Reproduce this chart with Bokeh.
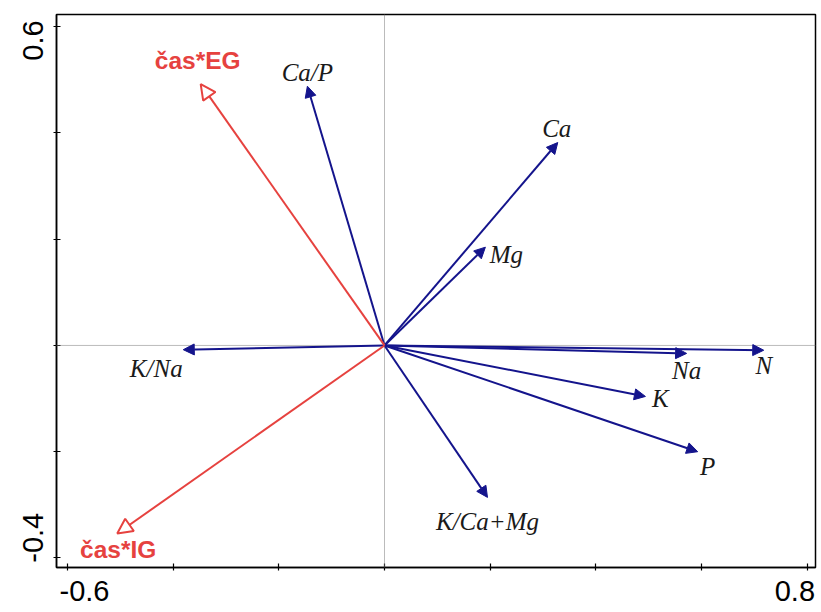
from bokeh.plotting import figure
from bokeh.models import Range1d, Arrow, NormalHead, ColumnDataSource, Span, FixedTicker, LinearAxis
from bokeh.core.properties import value
from bokeh.embed import file_html
from bokeh.resources import INLINE

# ---- data ----
env_names = ["čas*EG", "čas*IG"]
env_x = [-0.348, -0.506]
env_y = [0.492, -0.354]

var_names = ["Ca/P", "Ca", "Mg", "K/Na", "N", "Na", "K", "P", "K/Ca+Mg"]
var_x = [-0.146, 0.328, 0.191, -0.381, 0.718, 0.572, 0.494, 0.593, 0.195]
var_y = [0.488, 0.382, 0.185, -0.008, -0.009, -0.015, -0.096, -0.200, -0.286]

x_ticks = [-0.6, -0.4, -0.2, 0, 0.2, 0.4, 0.6, 0.8]
y_ticks = [-0.4, -0.2, 0, 0.2, 0.4, 0.6]
x_labelled = [-0.6, 0.8]
x_label_text = ["-0.6", "0.8"]
y_labelled = [-0.4, 0.6]
y_label_text = ["-0.4", "0.6"]

# ---- placement / style (labels kept inside the frame extent, as in the original) ----
x_label_shift = [0.032, -0.023]   # data units
y_label_shift = [0.038, -0.026]
env_dx = [-3, 1]
env_dy = [-24, 16]
var_dx = [0, -1, 21, -27, 0, 0, 15, 10, 0]
var_dy = [-14, -14, 7, 19, 15, 17, 2, 15, 24]

RED = "#E6423F"
BLUE = "#14148C"

p = figure(width=821, height=612, output_backend="svg", toolbar_location=None,
           x_range=Range1d(-0.621, 0.816), y_range=Range1d(-0.418, 0.623),
           min_border_left=56, min_border_right=6, min_border_top=14, min_border_bottom=45)
p.xgrid.visible = False
p.ygrid.visible = False
p.background_fill_color = "white"
p.border_fill_color = "white"
p.outline_line_color = "black"
p.outline_line_width = 1.5
p.outline_line_alpha = 1

# tick-mark axes (closest to the frame)
for ax, ticks in ((p.xaxis[0], x_ticks), (p.yaxis[0], y_ticks)):
    ax.ticker = FixedTicker(ticks=ticks)
    ax.minor_tick_line_color = None
    ax.major_tick_in = 4
    ax.major_tick_out = 3
    ax.major_tick_line_color = "black"
    ax.major_tick_line_width = 1.2
    ax.axis_line_color = "black"
    ax.axis_line_width = 1.5
    ax.major_label_overrides = {t: "" for t in ticks}
    ax.major_label_standoff = 0

# label axes
xl_pos = [v + s for v, s in zip(x_labelled, x_label_shift)]
yl_pos = [v + s for v, s in zip(y_labelled, y_label_shift)]
xlab = LinearAxis(ticker=FixedTicker(ticks=xl_pos),
                  major_label_overrides={t: s for t, s in zip(xl_pos, x_label_text)})
ylab = LinearAxis(ticker=FixedTicker(ticks=yl_pos),
                  major_label_overrides={t: s for t, s in zip(yl_pos, y_label_text)})
for ax, st in ((xlab, 10), (ylab, 10)):
    ax.axis_line_color = None
    ax.major_tick_line_color = None
    ax.minor_tick_line_color = None
    ax.major_tick_in = 0
    ax.major_tick_out = 0
    ax.major_label_standoff = st
    ax.major_label_text_font = "Liberation Sans"
    ax.major_label_text_font_size = "29px"
    ax.major_label_text_color = "black"
ylab.major_label_orientation = "vertical"
p.add_layout(xlab, "below")
p.add_layout(ylab, "left")

p.add_layout(Span(location=0, dimension="height", line_color="#777777", line_dash="1 1", line_width=1))
p.add_layout(Span(location=0, dimension="width", line_color="#777777", line_dash="1 1", line_width=1))

src_v = ColumnDataSource(dict(x0=[0.0] * len(var_x), y0=[0.0] * len(var_y), x1=var_x, y1=var_y,
                              name=var_names, dx=var_dx, dy=var_dy))
src_e = ColumnDataSource(dict(x0=[0.0] * len(env_x), y0=[0.0] * len(env_y), x1=env_x, y1=env_y,
                              name=env_names, dx=env_dx, dy=env_dy))

p.add_layout(Arrow(end=NormalHead(size=11, fill_color=BLUE, line_color=BLUE, line_width=1),
                   x_start="x0", y_start="y0", x_end="x1", y_end="y1", source=src_v,
                   line_color=BLUE, line_width=2))
p.add_layout(Arrow(end=NormalHead(size=15, fill_color="white", line_color=RED, line_width=2),
                   x_start="x0", y_start="y0", x_end="x1", y_end="y1", source=src_e,
                   line_color=RED, line_width=2))

p.text(x="x1", y="y1", text="name", source=src_v, x_offset="dx", y_offset="dy",
       text_font=value("Liberation Serif"), text_font_style="italic", text_font_size="25px",
       text_align="center", text_baseline="middle", text_color="#1a1a1a")
p.text(x="x1", y="y1", text="name", source=src_e, x_offset="dx", y_offset="dy",
       text_font=value("Liberation Sans"), text_font_style="bold", text_font_size="24.5px",
       text_align="center", text_baseline="middle", text_color=RED)

open("out.html", "w").write(file_html(p, INLINE))
